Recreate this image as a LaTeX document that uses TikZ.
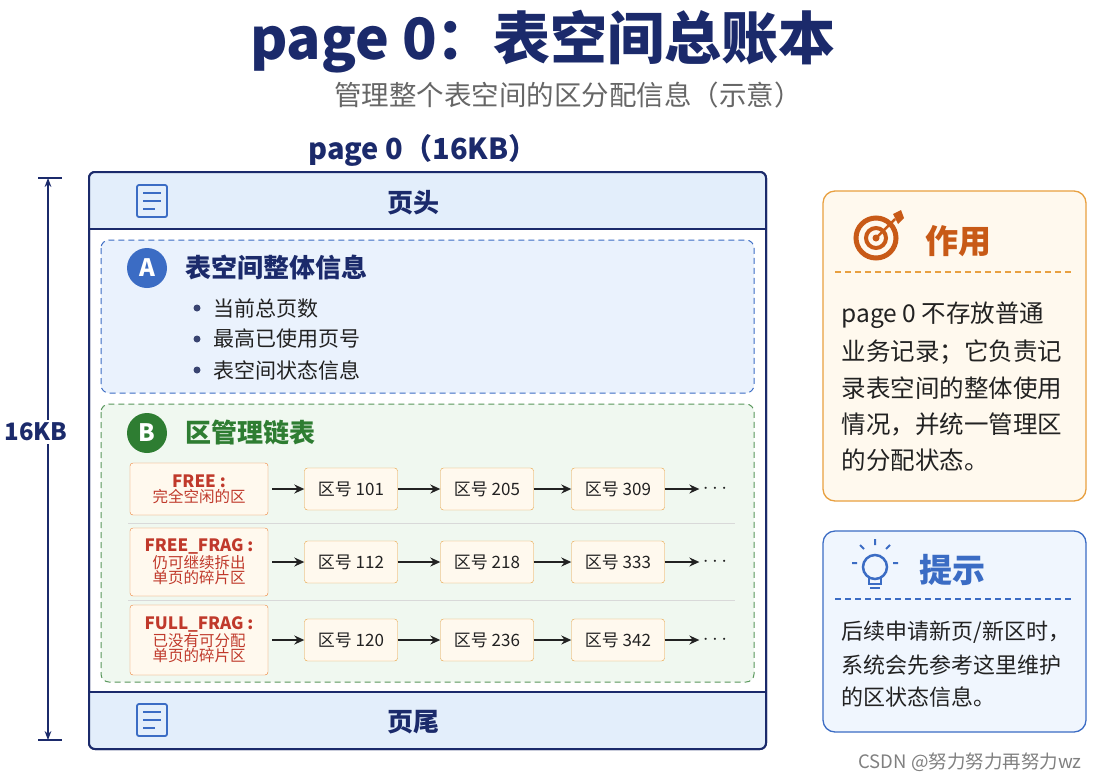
\documentclass[tikz,border=0pt]{standalone}
\usepackage{fontspec}
\setmainfont{Noto Sans CJK SC}
\usetikzlibrary{arrows.meta}
\definecolor{navy}{HTML}{1B2A6B}
\definecolor{ablue}{HTML}{3B6CC4}
\definecolor{lblue}{HTML}{EAF2FD}
\definecolor{hblue}{HTML}{E3EEFB}
\definecolor{agreen}{HTML}{2E7D32}
\definecolor{lgreen}{HTML}{F0F8F0}
\definecolor{ored}{HTML}{C0392B}
\definecolor{oborder}{HTML}{E8A040}
\definecolor{ofill}{HTML}{FFF9EE}
\definecolor{obrown}{HTML}{C85A17}
\definecolor{txt}{HTML}{222222}
\tikzset{x=1pt,y=-1pt,
  item/.style={draw=oborder,fill=ofill,rounded corners=3,minimum width=93,minimum height=42,font=\fontsize{17}{20}\selectfont,text=txt},
  lab/.style={draw=oborder!80!red,fill=ofill,rounded corners=3,minimum width=138,align=center,inner sep=2},
  arr/.style={-{Stealth[length=10,width=9]},line width=1.6,draw=txt},
  dsh/.style={dash pattern=on 6pt off 4pt},
  body/.style={anchor=west,font=\fontsize{24.5}{28}\selectfont,text=txt},
  bul/.style={anchor=west,font=\fontsize{23}{26}\selectfont,text=txt}}
\begin{document}
\begin{tikzpicture}
\useasboundingbox (0,0) rectangle (1108,780);
\fill[white] (0,0) rectangle (1108,780);
\node (title) at (543,42) {\fontsize{57}{60}\selectfont\bfseries\color{navy}page 0：表空间总账本};
\node (sub) at (568,95) {\fontsize{27.5}{30}\selectfont\color{gray!80!black}管理整个表空间的区分配信息（示意）};
\node (ptitle) at (423,150) {\fontsize{29}{32}\selectfont\bfseries\color{navy}page 0（16KB）};
% outer
\draw[navy,line width=2,fill=white,rounded corners=6] (89,172) rectangle (766,749);
\begin{scope}
\clip[rounded corners=6] (89,172) rectangle (766,749);
\fill[hblue] (89,172) rectangle (766,229);
\fill[hblue] (89,692) rectangle (766,749);
\end{scope}
\draw[navy,line width=1.5] (89,229) -- (766,229);
\draw[navy,line width=1.5] (89,692) -- (766,692);
\draw[navy,line width=2,rounded corners=6] (89,172) rectangle (766,749);
\node (head) at (413,203) {\fontsize{26}{28}\selectfont\bfseries\color{navy}页头};
\node (foot) at (413,722) {\fontsize{26}{28}\selectfont\bfseries\color{navy}页尾};
\foreach \y in {201,720}{
  \draw[ablue,line width=1.8,rounded corners=2] (137,\y-16) rectangle (167,\y+16);
  \draw[ablue,line width=1.8] (143,\y-8)--(161,\y-8) (143,\y)--(161,\y) (143,\y+8)--(155,\y+8);}
% A
\draw[ablue,dsh,line width=1,fill=lblue,rounded corners=8] (101,240) rectangle (754,393);
\node[circle,fill=ablue,minimum size=40,text=white,font=\fontsize{24}{26}\selectfont\bfseries] (ca) at (147,268) {A};
\node[anchor=west,font=\fontsize{26}{28}\selectfont\bfseries,text=navy] (ta) at (182,268) {表空间整体信息};
\foreach \y/\t in {308/当前总页数,339/最高已使用页号,370/表空间状态信息}{
  \fill[navy!70!gray] (197,\y) circle (3.5);
  \node[bul,font=\fontsize{21}{24}\selectfont] at (210,\y) {\t};}
% B
\draw[agreen!80,dsh,line width=1,fill=lgreen,rounded corners=8] (101,404) rectangle (754,682);
\node[circle,fill=agreen,minimum size=40,text=white,font=\fontsize{24}{26}\selectfont\bfseries] (cb) at (147,433) {B};
\node[anchor=west,font=\fontsize{26}{28}\selectfont\bfseries,text=agreen] (tb) at (182,433) {区管理链表};
\draw[gray!30,line width=1] (128,523) -- (735,523) (128,600) -- (735,600);
\node[lab,minimum height=52] (l1) at (199,489) {\fontsize{17}{19}\selectfont\bfseries\color{ored}FREE :\\[1pt]\fontsize{15.5}{17}\selectfont\color{ored}完全空闲的区};
\node[lab,minimum height=68] (l2) at (199,562) {\fontsize{17}{19}\selectfont\bfseries\color{ored}FREE\_FRAG :\\\fontsize{15.5}{19}\selectfont\color{ored}仍可继续拆出\\\fontsize{15.5}{19}\selectfont\color{ored}单页的碎片区};
\node[lab,minimum height=70] (l3) at (199,640) {\fontsize{17}{19}\selectfont\bfseries\color{ored}FULL\_FRAG :\\\fontsize{15.5}{19}\selectfont\color{ored}已没有可分配\\\fontsize{15.5}{19}\selectfont\color{ored}单页的碎片区};
\foreach \r/\y/\a/\b/\c in {1/489/101/205/309,2/562/112/218/333,3/640/120/236/342}{
  \node[item] (a\r) at (351,\y) {区号 \a};
  \node[item] (b\r) at (487,\y) {区号 \b};
  \node[item] (c\r) at (618,\y) {区号 \c};
  \node[font=\fontsize{22}{24}\selectfont\bfseries,text=txt] (d\r) at (715,\y) {$\cdots$};
  \draw[arr] (l\r.east)+(4,0) -- (a\r);
  \draw[arr] (a\r) -- (b\r);
  \draw[arr] (b\r) -- (c\r);
  \draw[arr] (c\r) -- (d\r);}
% dimension
\coordinate (dt) at (48,178); \coordinate (db) at (48,740);
\draw[navy,line width=1.2] (38,178)--(62,178) (38,740)--(62,740);
\draw[navy,line width=1.2,{Stealth[length=9]}-{Stealth[length=9]}] (dt) -- (db);
\node[fill=white,inner sep=3,font=\fontsize{24}{26}\selectfont\bfseries,text=navy] (dim) at (36,432) {16KB};
% right box 1
\draw[oborder,line width=1.3,fill=ofill,rounded corners=12] (823,191) rectangle (1086,501);
\draw[obrown,line width=5] (876,238) circle (20);
\draw[obrown,line width=4] (876,238) circle (10);
\fill[obrown] (876,238) circle (3.5);
\draw[obrown,line width=2.5] (876,238) -- (895,219);
\fill[obrown] (893,214) -- (901,210) -- (904,218) -- (898,224) -- cycle;
\node[anchor=west,font=\fontsize{33}{36}\selectfont\bfseries,text=obrown] (zy) at (922,241) {作用};
\draw[oborder,dsh,line width=1.2] (835,272) -- (1073,272);
\foreach \y/\t in {315/{page 0 不存放普通},352/{业务记录；它负责记},388/{录表空间的整体使用},424/{情况，并统一管理区},460/{的分配状态。}}
  \node[body] at (838,\y) {\t};
% right box 2
\draw[ablue,line width=1.3,fill=lblue!70,rounded corners=12] (823,531) rectangle (1086,732);
\draw[ablue,line width=2.5] (875,567) circle (12);
\draw[ablue,line width=2.5] (869,578) -- (869,584) -- (881,584) -- (881,578);
\draw[ablue,line width=2.5] (870,588)--(880,588);
\draw[ablue,line width=2] (875,539)--(875,545) (860,545)--(864,549) (890,545)--(886,549) (852,563)--(857,563) (893,563)--(898,563);
\node[anchor=west,font=\fontsize{33}{36}\selectfont\bfseries,text=ablue] (ts) at (916,570) {提示};
\draw[ablue,dsh,line width=1.2] (835,599) -- (1073,599);
\foreach \y/\t in {632/{后续申请新页/新区时，},665/{系统会先参考这里维护},697/{的区状态信息。}}
  \node[body,font=\fontsize{22}{25}\selectfont] at (838,\y) {\t};
\node[font=\fontsize{18.5}{20}\selectfont,text=gray] (wm) at (970,762) {CSDN @努力努力再努力wz};
\end{tikzpicture}
\end{document}
